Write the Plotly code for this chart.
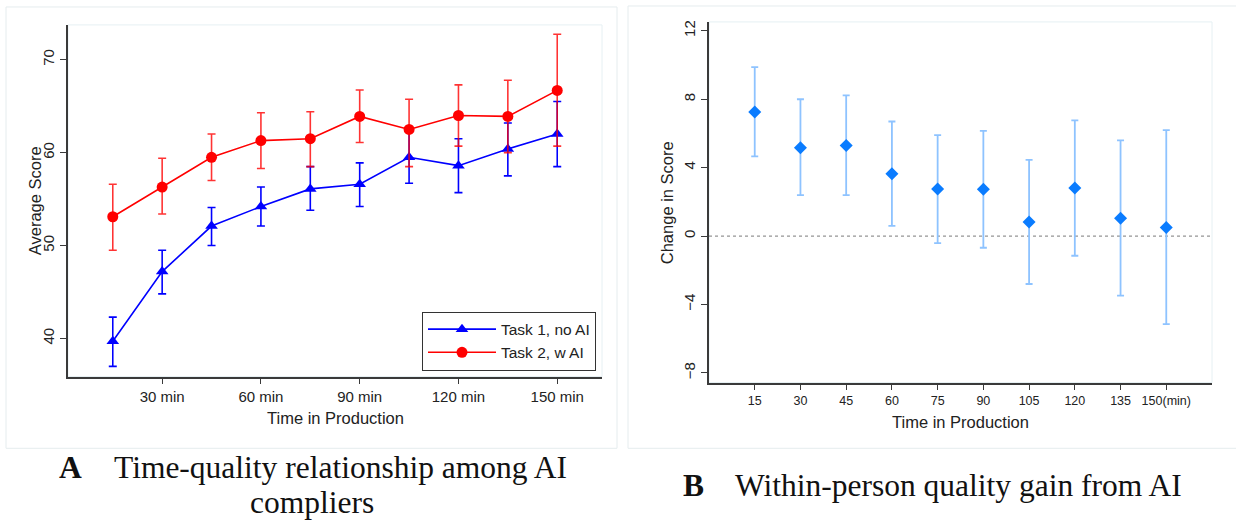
import plotly.graph_objects as go

W, H = 1236, 523

# ---- data -------------------------------------------------------------
minutes = [15, 30, 45, 60, 75, 90, 105, 120, 135, 150]

# Panel A: average score by time in production (mean and 95% CI)
task1_mean = [39.7, 47.2, 52.1, 54.2, 56.1, 56.6, 59.5, 58.6, 60.4, 62.0]
task1_low = [37.0, 44.8, 50.0, 52.1, 53.8, 54.2, 56.7, 55.7, 57.5, 58.5]
task1_high = [42.3, 49.5, 54.1, 56.3, 58.5, 58.9, 62.2, 61.5, 63.2, 65.5]

task2_mean = [53.1, 56.3, 59.5, 61.3, 61.5, 63.9, 62.5, 64.0, 63.9, 66.7]
task2_low = [49.5, 53.4, 57.0, 58.3, 58.5, 61.1, 58.5, 60.7, 60.0, 60.7]
task2_high = [56.6, 59.4, 62.0, 64.3, 64.4, 66.75, 65.75, 67.3, 67.8, 72.75]

a_xticks = [30, 60, 90, 120, 150]
a_xlabels = ["30 min", "60 min", "90 min", "120 min", "150 min"]
a_yticks = [40, 50, 60, 70]

# Panel B: within-person change in score (estimate and 95% CI)
gain_mean = [7.26, 5.16, 5.30, 3.65, 2.75, 2.74, 0.83, 2.81, 1.05, 0.50]
gain_low = [4.66, 2.39, 2.39, 0.60, -0.41, -0.68, -2.80, -1.15, -3.48, -5.15]
gain_high = [9.88, 8.00, 8.23, 6.70, 5.90, 6.15, 4.46, 6.76, 5.59, 6.19]

b_xlabels = ["15", "30", "45", "60", "75", "90", "105", "120", "135", "150(min)"]
b_yticks = [-8, -4, 0, 4, 8, 12]

# ---- helpers ----------------------------------------------------------
def px_x(p):
    return p / W


def px_y(p):
    return 1 - p / H


def up(hi, mid):
    return [h - m for h, m in zip(hi, mid)]


def down(lo, mid):
    return [m - l for l, m in zip(lo, mid)]


SANS = "Liberation Sans, Arial, sans-serif"
SERIF = "Liberation Serif, Times New Roman, serif"
AXIS = "#3a3a3a"
TEXT = "#222"

fig = go.Figure()

fig.add_trace(go.Scatter(
    x=minutes, y=task1_mean, name="Task 1, no AI", mode="lines+markers",
    line=dict(color="#0000FF", width=1.6),
    marker=dict(symbol="triangle-up", size=11, color="#0000FF"),
    error_y=dict(type="data", symmetric=False,
                 array=up(task1_high, task1_mean),
                 arrayminus=down(task1_low, task1_mean),
                 color="#0000FF", thickness=1.6, width=4),
    xaxis="x", yaxis="y",
))
fig.add_trace(go.Scatter(
    x=minutes, y=task2_mean, name="Task 2, w AI", mode="lines+markers",
    line=dict(color="#FF0000", width=1.6),
    marker=dict(symbol="circle", size=11, color="#FF0000"),
    error_y=dict(type="data", symmetric=False,
                 array=up(task2_high, task2_mean),
                 arrayminus=down(task2_low, task2_mean),
                 color="rgba(255,0,0,0.8)", thickness=1.6, width=4),
    xaxis="x", yaxis="y",
))
fig.add_trace(go.Scatter(
    x=minutes, y=gain_mean, mode="markers", showlegend=False,
    marker=dict(symbol="diamond", size=10, color="#0A7CFF"),
    error_y=dict(type="data", symmetric=False,
                 array=up(gain_high, gain_mean),
                 arrayminus=down(gain_low, gain_mean),
                 color="#8EC3FF", thickness=1.8, width=3.5),
    xaxis="x2", yaxis="y2",
))

axis_common = dict(
    showline=True, linecolor=AXIS, linewidth=1.5, mirror=False,
    ticks="outside", ticklen=6, tickwidth=1.2, tickcolor=AXIS,
    showgrid=False, zeroline=False,
    tickfont=dict(family=SANS, size=15, color=TEXT),
)

fig.update_layout(
    width=W, height=H,
    margin=dict(l=0, r=0, t=0, b=0),
    paper_bgcolor="white", plot_bgcolor="white",
    xaxis=dict(
        axis_common, domain=[px_x(68), px_x(602)], range=[1.4, 163.6],
        tickvals=a_xticks, ticktext=a_xlabels, anchor="y",
    ),
    yaxis=dict(
        axis_common, domain=[px_y(376), px_y(23)], range=[35.9, 73.75],
        tickvals=a_yticks, tickangle=-90, anchor="x",
    ),
    xaxis2=dict(
        axis_common, domain=[px_x(709), px_x(1212)], range=[0, 165],
        tickvals=minutes, ticktext=b_xlabels, anchor="y2",
        tickfont=dict(family=SANS, size=12.5, color=TEXT),
    ),
    yaxis2=dict(
        axis_common, domain=[px_y(382), px_y(20)], range=[-8.56, 12.52],
        tickvals=b_yticks, tickangle=-90, anchor="x2",
    ),
    legend=dict(
        x=px_x(596), y=px_y(370), xanchor="right", yanchor="bottom",
        bgcolor="white", bordercolor="#333", borderwidth=1,
        font=dict(family=SANS, size=15.5, color=TEXT),
        tracegroupgap=0, itemwidth=68,
    ),
    showlegend=True,
)

# axis titles
title_font = dict(family=SANS, size=16.5, color=TEXT)
axis_titles = [
    ("Time in Production", 335, 418, 0),
    ("Average Score", 35, 200, -90),
    ("Time in Production", 961, 422, 0),
    ("Change in Score", 667, 201, -90),
]
for text, x, y, ang in axis_titles:
    fig.add_annotation(text=text, xref="paper", yref="paper",
                       x=px_x(x), y=px_y(y), xanchor="center", yanchor="middle",
                       textangle=ang, showarrow=False, font=title_font)

# panel frames and plot-region outlines
frames = [(6, 5, 617, 448), (628, 4, 1240, 448)]
for x0, y0, x1, y1 in frames:
    fig.add_shape(type="rect", xref="paper", yref="paper",
                  x0=px_x(x0), x1=px_x(x1), y0=px_y(y1), y1=px_y(y0),
                  line=dict(color="#e5ecee", width=1), layer="below")
for xr, yr in [("x", "y"), ("x2", "y2")]:
    fig.add_shape(type="rect", xref=f"{xr} domain", yref=f"{yr} domain",
                  x0=0, x1=1, y0=0, y1=1,
                  line=dict(color="#e6f0f3", width=1), layer="below")

# zero reference line in panel B
fig.add_shape(type="line", xref="x2 domain", yref="y2", x0=0, x1=1, y0=0, y1=0,
              line=dict(color="#7a7a7a", width=1, dash="dot"), layer="below")

# captions
cap_font = dict(family=SERIF, size=31.5, color="#111")
captions = [
    ("<b>A</b>", 57, 467, "left"),
    ("Time-quality relationship among AI", 112, 467, "left"),
    ("compliers", 312, 502, "center"),
    ("<b>B</b>", 681, 485, "left"),
    ("Within-person quality gain from AI", 733, 485, "left"),
]
for text, x, y, anchor in captions:
    fig.add_annotation(text=text, xref="paper", yref="paper",
                       x=px_x(x), y=px_y(y), xanchor=anchor, yanchor="middle",
                       showarrow=False, font=cap_font)

fig.write_html("out.html")
